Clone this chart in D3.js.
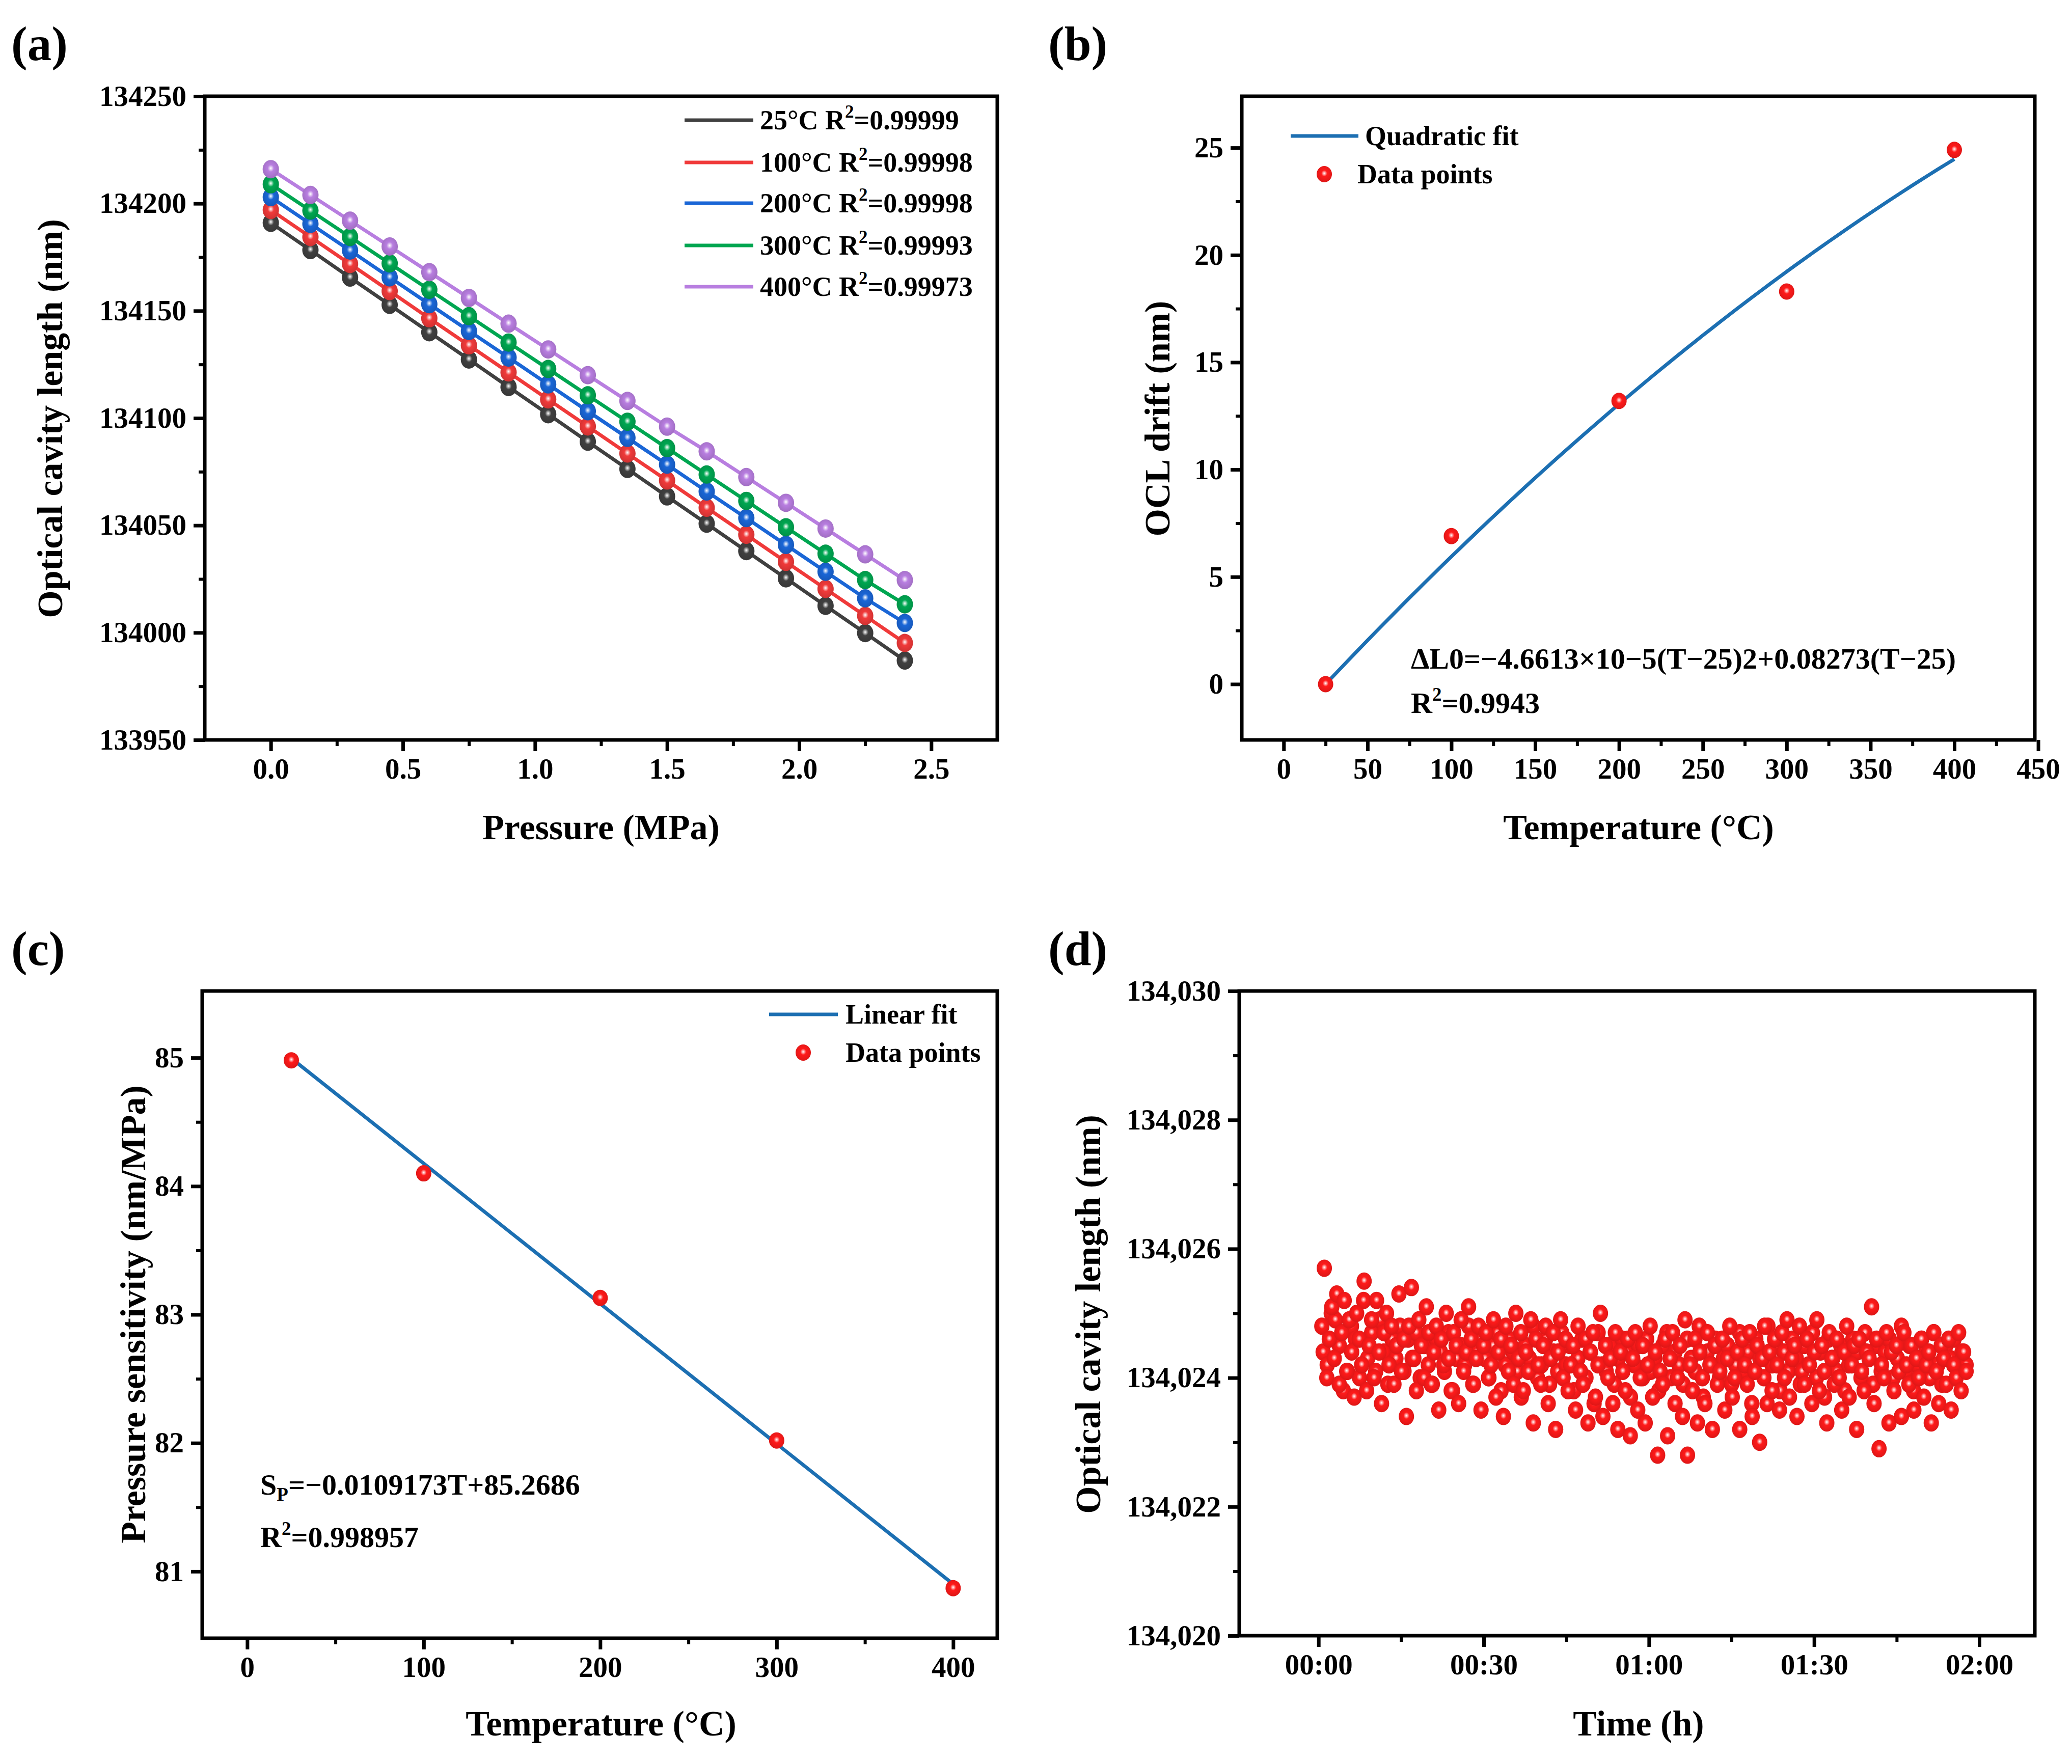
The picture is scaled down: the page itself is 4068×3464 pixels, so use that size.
<!DOCTYPE html>
<html><head><meta charset="utf-8">
<script src="https://cdn.jsdelivr.net/npm/d3@7"></script>
<style>body{margin:0;background:#fff}svg{display:block}</style>
</head><body>
<script>
// ---------- DATA ----------
const pressureMPa = [0,0.15,0.3,0.45,0.6,0.75,0.9,1.05,1.2,1.35,1.5,1.65,1.8,1.95,2.1,2.25,2.4];
const ocl25  = [134191,134178.3,134165.5,134152.8,134140,134127.3,134114.5,134101.8,134089,134076.3,134063.5,134050.8,134038,134025.3,134012.5,133999.8,133987];
const ocl100 = [134197,134184.4,134171.8,134159.2,134146.5,134133.9,134121.3,134108.7,134096.1,134083.5,134070.9,134058.2,134045.6,134033,134020.4,134007.8,133995.2];
const ocl200 = [134203,134190.5,134178.1,134165.6,134153.1,134140.6,134128.2,134115.7,134103.2,134090.8,134078.3,134065.8,134053.4,134040.9,134028.4,134016,134004.5];
const ocl300 = [134209,134196.7,134184.4,134172.1,134159.8,134147.5,134135.2,134122.9,134110.6,134098.3,134086,134073.7,134061.4,134049.1,134036.8,134024.5,134013.2];
const ocl400 = [134216,134204,134192,134180,134168,134156,134144,134132,134120,134108,134096,134084.5,134072.5,134060.5,134048.5,134036.5,134024.5];
const seriesLabels = ["25°C","100°C","200°C","300°C","400°C"];
const seriesR2 = ["0.99999","0.99998","0.99998","0.99993","0.99973"];

const tempC = [25,100,200,300,400];
const oclDrift = [0,6.9,13.2,18.3,24.9];
const quadA = -4.6613e-5, quadB = 0.08273;

const sensitivity = [84.98,84.1,83.13,82.02,80.87];
const linSlope = -0.0109173, linIntercept = 85.2686;

const stabilityBase = 134020;
const stabilityOffsets = [
4.8,5.7,4.0,4.6,5.1,4.3,5.3,3.9,4.7,5.2,4.1,4.9,4.4,3.7,5.0,4.6,4.2,5.5,3.8,4.5,
4.9,4.0,5.2,4.4,3.6,4.7,5.0,4.2,4.8,3.9,4.5,5.3,4.1,4.6,3.4,4.8,5.4,4.3,3.8,4.9,
4.5,4.0,5.1,4.7,3.9,4.4,4.8,3.5,4.6,4.2,5.0,4.3,3.8,4.7,4.5,3.6,4.9,4.1,4.4,5.1,
4.6,3.9,4.3,4.8,3.5,4.5,4.7,4.0,4.2,4.9,3.7,4.4,4.6,3.4,4.8,4.1,4.5,3.9,5.0,4.3,
4.7,3.8,4.4,4.1,4.9,3.3,4.6,4.2,3.9,4.5,4.8,3.6,4.3,4.7,3.2,4.4,4.9,4.0,4.6,3.8,
4.2,4.5,3.5,4.8,4.1,3.9,4.6,3.3,4.4,4.7,3.7,4.2,5.0,3.4,4.5,4.0,4.3,3.6,4.7,3.2,
4.4,4.1,3.8,4.6,3.1,4.3,4.7,3.5,4.0,4.5,3.3,4.2,4.8,3.7,4.4,2.8,4.1,3.9,4.6,3.1,
4.3,4.7,3.6,4.0,4.5,3.4,4.9,2.8,4.2,3.8,4.6,3.3,4.4,4.0,3.6,4.7,4.2,3.2,4.5,3.9,
4.1,4.6,3.5,4.3,4.8,3.7,4.0,4.4,3.2,4.6,4.2,3.9,4.7,3.4,4.1,4.5,3.0,4.3,4.8,3.6,
4.4,3.8,4.6,4.2,3.5,4.7,4.0,4.9,3.7,4.3,4.5,3.4,4.8,4.1,3.9,4.6,4.2,3.6,4.4,4.9,
3.8,4.5,4.1,3.3,4.7,4.3,3.9,4.6,4.0,3.5,4.4,4.8,3.7,4.2,4.5,3.2,4.6,4.1,3.8,4.4,
4.3,5.1,3.6,4.6,2.9,4.2,4.0,4.7,3.3,4.4,3.8,4.5,4.1,3.4,4.7,4.2,3.9,4.5,3.5,4.3,
4.0,4.6,3.7,4.2,4.4,3.3,4.7,4.1,3.6,4.5,4.3,3.9,4.6,3.5,4.2,4.0,4.7,3.8,4.4,4.1];
const stabilityOffsets2 = [
4.4,4.2,5.0,4.9,4.5,3.8,4.1,4.8,4.6,4.0,5.2,4.3,4.7,4.1,4.9,4.4,3.9,4.6,4.3,4.8,
4.1,4.6,4.3,4.7,4.0,4.5,4.2,3.9,4.6,4.4,4.1,4.7,3.8,4.3,4.5,4.2,4.8,3.9,4.4,4.6,
4.3,4.0,4.5,4.7,3.8,4.2,4.6,4.4,4.1,3.7,4.5,4.3,4.8,4.0,4.2,4.6,3.9,4.4,4.1,4.7,
4.2,4.5,3.8,4.3,4.6,4.0,4.4,3.6,4.7,4.2,4.1,4.5,3.9,4.3,4.6,4.4,3.7,4.2,4.5,4.0,
4.6,4.1,4.3,3.8,4.5,4.7,4.0,4.4,4.2,3.9,4.6,4.3,4.1,4.8,3.7,4.4,4.2,4.6,4.0,4.3,
4.5,3.9,4.2,4.7,4.1,4.4,3.6,4.6,4.3,4.0,4.8,4.2,4.5,3.8,4.4,4.1,4.6,4.3,3.9,4.5,
4.2,4.7,4.0,4.4,3.7,4.6,4.3,4.1,4.5,3.8,4.2,4.6,4.4,4.0,4.7,4.3,3.9,4.5,4.1,4.4,
4.6,4.0,4.3,4.8,4.1,4.5,3.8,4.2,4.6,4.4,4.0,4.7,4.2,3.9,4.5,4.3,4.6,4.1,4.4,4.2];
const stabilityStartH = 0.01, stabilityEndH = 1.96;
const timeTicks = [0,0.5,1,1.5,2];
const timeTickLabels = ["00:00","00:30","01:00","01:30","02:00"];

// ---------- DRAW ----------
const W=4068,H=3464;
const svg=d3.select("body").append("svg").attr("width",W).attr("height",H).style("font-family","'Liberation Serif','Times New Roman',serif").style("font-weight","bold");
const defs=svg.append("defs");
function grad(id,col){
  const g=defs.append("radialGradient").attr("id",id).attr("cx","50%").attr("cy","45%").attr("r","55%");
  g.append("stop").attr("offset","0%").attr("stop-color","#fff");
  g.append("stop").attr("offset","35%").attr("stop-color",col);
  g.append("stop").attr("offset","100%").attr("stop-color",d3.color(col).darker(0.4));
}
const colors=["#404040","#f03a3a","#1a66d6","#00a651","#b87ee0"];
colors.forEach((c,i)=>grad("g"+i,c));
grad("gred","#ff1a1a");
const fitColor="#1c6fb2";
const TICK=57, TITLE=70, LW=7;

function frame(g,L,R,T,B){
  g.append("rect").attr("x",L).attr("y",T).attr("width",R-L).attr("height",B-T).attr("fill","none").attr("stroke","#000").attr("stroke-width",7);
}
function axes(g,x,y,L,R,T,B,xt,yt,xfmt,yfmt,xminor,yminor){
  const xa=g.append("g").attr("transform",`translate(0,${B})`).call(d3.axisBottom(x).tickValues(xt).tickFormat(xfmt).tickSize(22).tickPadding(14));
  const ya=g.append("g").attr("transform",`translate(${L},0)`).call(d3.axisLeft(y).tickValues(yt).tickFormat(yfmt).tickSize(22).tickPadding(14));
  [xa,ya].forEach(a=>{a.select(".domain").remove();a.selectAll("line").attr("stroke","#000").attr("stroke-width",7);a.selectAll("text").attr("font-size",TICK).attr("font-family","'Liberation Serif',serif").attr("font-weight","bold").attr("fill","#000");});
  if(xminor) g.append("g").attr("transform",`translate(0,${B})`).call(d3.axisBottom(x).tickValues(xminor).tickFormat("").tickSize(12)).call(a=>{a.select(".domain").remove();a.selectAll("line").attr("stroke","#000").attr("stroke-width",6);});
  if(yminor) g.append("g").attr("transform",`translate(${L},0)`).call(d3.axisLeft(y).tickValues(yminor).tickFormat("").tickSize(12)).call(a=>{a.select(".domain").remove();a.selectAll("line").attr("stroke","#000").attr("stroke-width",6);});
}
function titles(xt,xx,xy,yt,yx,yy){
  svg.append("text").attr("x",xx).attr("y",xy).attr("text-anchor","middle").attr("font-size",TITLE).text(xt);
  svg.append("text").attr("transform",`translate(${yx},${yy}) rotate(-90)`).attr("text-anchor","middle").attr("font-size",TITLE).text(yt);
}
function plabel(t,x,y){svg.append("text").attr("x",x).attr("y",y).attr("font-size",95).text(t);}

// Panel a
{
const L=402,R=1958,T=189,B=1453;
const x=d3.scaleLinear().domain([-0.25,2.75]).range([L,R]);
const y=d3.scaleLinear().domain([133950,134250]).range([B,T]);
const g=svg.append("g");
const all=[ocl25,ocl100,ocl200,ocl300,ocl400];
axes(g,x,y,L,R,T,B,[0,0.5,1,1.5,2,2.5],d3.range(133950,134251,50),d3.format(".1f"),d3.format("d"),[0.25,0.75,1.25,1.75,2.25],d3.range(133975,134250,50));
all.forEach((s,i)=>{
  const pts=s.map((v,j)=>[pressureMPa[j],v]);
  g.append("path").attr("d",d3.line().x(d=>x(d[0])).y(d=>y(d[1]))(pts)).attr("fill","none").attr("stroke",colors[i]).attr("stroke-width",LW);
  g.selectAll(null).data(pts).join("ellipse").attr("cx",d=>x(d[0])).attr("cy",d=>y(d[1])).attr("rx",16).attr("ry",18).attr("fill",`url(#g${i})`);
});
frame(g,L,R,T,B);
seriesLabels.forEach((lab,i)=>{
  const yy=[236,319,399,482,563][i];
  g.append("line").attr("x1",1344).attr("x2",1479).attr("y1",yy).attr("y2",yy).attr("stroke",colors[i]).attr("stroke-width",LW);
  const t=g.append("text").attr("x",1492).attr("y",yy+18).attr("font-size",54);
  t.append("tspan").text(lab+" R");
  t.append("tspan").attr("font-size",35).attr("dy",-23).text("2");
  t.append("tspan").attr("dy",23).text("="+seriesR2[i]);
});
titles("Pressure (MPa)",1180,1648,"Optical cavity length (nm)",122,822);
plabel("(a)",22,118);
}
// Panel b
{
const L=2438,R=3995,T=189,B=1453;
const x=d3.scaleLinear().domain([-25,448]).range([L,R]);
const y=d3.scaleLinear().domain([-2.6,27.4]).range([B,T]);
const g=svg.append("g");
axes(g,x,y,L,R,T,B,d3.range(0,451,50),[0,5,10,15,20,25],d3.format("d"),d3.format("d"),d3.range(25,450,50),[2.5,7.5,12.5,17.5,22.5]);
const fit=d3.range(25,400.1,5).map(t=>[t,quadA*(t-25)**2+quadB*(t-25)]);
g.append("path").attr("d",d3.line().x(d=>x(d[0])).y(d=>y(d[1]))(fit)).attr("fill","none").attr("stroke",fitColor).attr("stroke-width",LW);
g.selectAll(null).data(tempC).join("ellipse").attr("cx",d=>x(d)).attr("cy",(d,i)=>y(oclDrift[i])).attr("rx",15).attr("ry",16).attr("fill","url(#gred)");
frame(g,L,R,T,B);
g.append("line").attr("x1",2534).attr("x2",2667).attr("y1",267).attr("y2",267).attr("stroke",fitColor).attr("stroke-width",LW);
g.append("text").attr("x",2680).attr("y",285).attr("font-size",54).text("Quadratic fit");
g.append("ellipse").attr("cx",2600).attr("cy",342).attr("rx",15).attr("ry",16).attr("fill","url(#gred)");
g.append("text").attr("x",2665).attr("y",360).attr("font-size",54).text("Data points");
g.append("text").attr("x",2770).attr("y",1313).attr("font-size",58).text("ΔL0=−4.6613×10−5(T−25)2+0.08273(T−25)");
const r=g.append("text").attr("x",2770).attr("y",1400).attr("font-size",58);
r.append("tspan").text("R");r.append("tspan").attr("font-size",37).attr("dy",-24).text("2");r.append("tspan").attr("dy",24).text("=0.9943");
titles("Temperature (°C)",3217,1648,"OCL drift (nm)",2296,822);
plabel("(b)",2058,118);
}
// Panel c
{
const L=397,R=1958,T=1946,B=3217;
const x=d3.scaleLinear().domain([-25.5,425]).range([L,R]);
const y=d3.scaleLinear().domain([80.48,85.52]).range([B,T]);
const g=svg.append("g");
axes(g,x,y,L,R,T,B,[0,100,200,300,400],[81,82,83,84,85],d3.format("d"),d3.format("d"),[50,150,250,350],[81.5,82.5,83.5,84.5]);
const fit=[25,400].map(t=>[t,linSlope*t+linIntercept]);
g.append("path").attr("d",d3.line().x(d=>x(d[0])).y(d=>y(d[1]))(fit)).attr("fill","none").attr("stroke",fitColor).attr("stroke-width",LW);
g.selectAll(null).data(tempC).join("ellipse").attr("cx",d=>x(d)).attr("cy",(d,i)=>y(sensitivity[i])).attr("rx",15).attr("ry",16).attr("fill","url(#gred)");
frame(g,L,R,T,B);
g.append("line").attr("x1",1510).attr("x2",1645).attr("y1",1992).attr("y2",1992).attr("stroke",fitColor).attr("stroke-width",LW);
g.append("text").attr("x",1660).attr("y",2010).attr("font-size",54).text("Linear fit");
g.append("ellipse").attr("cx",1577).attr("cy",2067).attr("rx",15).attr("ry",16).attr("fill","url(#gred)");
g.append("text").attr("x",1660).attr("y",2085).attr("font-size",54).text("Data points");
const s=g.append("text").attr("x",511).attr("y",2935).attr("font-size",58);
s.append("tspan").text("S");s.append("tspan").attr("font-size",37).attr("dy",12).text("P");s.append("tspan").attr("dy",-12).text("=−0.0109173T+85.2686");
const r=g.append("text").attr("x",511).attr("y",3038).attr("font-size",58);
r.append("tspan").text("R");r.append("tspan").attr("font-size",37).attr("dy",-24).text("2");r.append("tspan").attr("dy",24).text("=0.998957");
titles("Temperature (°C)",1180,3408,"Pressure sensitivity (nm/MPa)",285,2581);
plabel("(c)",22,1895);
}
// Panel d
{
const L=2433,R=3995,T=1946,B=3212;
const x=d3.scaleLinear().domain([-0.24,2.168]).range([L,R]);
const y=d3.scaleLinear().domain([134020,134030]).range([B,T]);
const g=svg.append("g");
axes(g,x,y,L,R,T,B,timeTicks,[134020,134022,134024,134026,134028,134030],(d,i)=>timeTickLabels[i],d3.format(","),[0.25,0.75,1.25,1.75],[134021,134023,134025,134027,134029]);
function draw(arr,t0){
  const n=arr.length;
  const tx=d3.scaleLinear().domain([0,n-1]).range([stabilityStartH+t0,stabilityEndH]);
  g.selectAll(null).data(arr).join("ellipse").attr("cx",(d,i)=>x(tx(i))).attr("cy",d=>y(stabilityBase+d)).attr("rx",15).attr("ry",17).attr("fill","url(#gred)");
}
draw(stabilityOffsets2,0.004);
draw(stabilityOffsets,0);
frame(g,L,R,T,B);
titles("Time (h)",3217,3408,"Optical cavity length (nm)",2160,2581);
plabel("(d)",2058,1895);
}
</script>
</body></html>
